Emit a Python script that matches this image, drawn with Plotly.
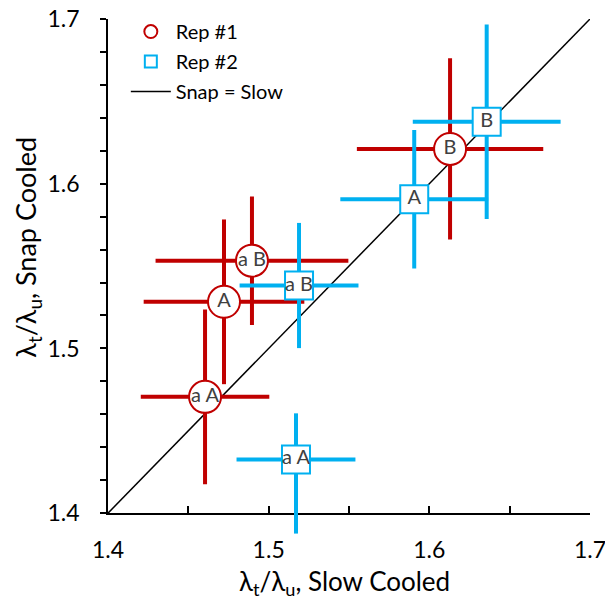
import plotly.graph_objects as go

# Rep #1 (red circles)
rep1_x = [1.4604, 1.4722, 1.4896, 1.6129]
rep1_y = [1.4706, 1.5283, 1.5533, 1.6211]
rep1_ex = [0.040, 0.050, 0.060, 0.058]
rep1_ey = [0.053, 0.050, 0.039, 0.055]
rep1_labels = ["a A", "A", "a B", "B"]

# Rep #2 (blue squares)
rep2_x = [1.5170, 1.5189, 1.5906, 1.6357]
rep2_y = [1.4326, 1.5382, 1.5906, 1.6376]
rep2_ex = [0.037, 0.037, 0.046, 0.046]
rep2_ey_plus = [0.028, 0.038, 0.042, 0.059]
rep2_ey_minus = [0.045, 0.038, 0.042, 0.059]
rep2_labels = ["a A", "a B", "A", "B"]

# 1:1 line
line_x = [1.4, 1.7]
line_y = [1.4, 1.7]

RED = "#C00000"
BLUE = "#00B0F0"
FONT = "Lato"

# layout geometry (lets error bars extend a little below the x axis)
W, H = 605, 605
M_L, M_R, M_T, M_B = 108, 15, 16, 65
AREA_H = H - M_T - M_B
D0 = 27 / AREA_H                     # main y-domain bottom (x axis position)
Y_LO, Y_HI = 1.4, 1.7
Y2_LO = Y_LO - (Y_HI - Y_LO) * D0 / (1 - D0)


def py(pix):
    """pixel row -> paper y"""
    return (H - M_B - pix) / AREA_H


fig = go.Figure()

fig.add_trace(go.Scatter(
    x=line_x, y=line_y, mode="lines", xaxis="x", yaxis="y",
    line=dict(color="black", width=1.5),
    showlegend=False, hoverinfo="skip"))

fig.add_trace(go.Scatter(
    x=rep1_x, y=rep1_y, mode="markers+text", text=rep1_labels,
    xaxis="x", yaxis="y2",
    textposition="middle center",
    textfont=dict(family=FONT, size=20, color="#404040"),
    marker=dict(symbol="circle", size=32, color="white",
                line=dict(color=RED, width=2)),
    error_x=dict(type="data", array=rep1_ex, color=RED, thickness=4, width=0),
    error_y=dict(type="data", array=rep1_ey, color=RED, thickness=4, width=0),
    cliponaxis=False, showlegend=False))

fig.add_trace(go.Scatter(
    x=rep2_x, y=rep2_y, mode="markers+text", text=rep2_labels,
    xaxis="x", yaxis="y2",
    textposition="middle center",
    textfont=dict(family=FONT, size=20, color="#404040"),
    marker=dict(symbol="square", size=28, color="white",
                line=dict(color=BLUE, width=2)),
    error_x=dict(type="data", array=rep2_ex, color=BLUE, thickness=4, width=0),
    error_y=dict(type="data", symmetric=False, array=rep2_ey_plus,
                 arrayminus=rep2_ey_minus, color=BLUE, thickness=4, width=0),
    cliponaxis=False, showlegend=False))

# legend entries
fig.add_trace(go.Scatter(
    x=[None], y=[None], mode="markers", name="Rep #1", legendgroup="g1",
    marker=dict(symbol="circle", size=13, color="white",
                line=dict(color=RED, width=2))))
fig.add_trace(go.Scatter(
    x=[None], y=[None], mode="markers", name="Rep #2", legendgroup="g2",
    marker=dict(symbol="square", size=12, color="white",
                line=dict(color=BLUE, width=2))))
fig.add_trace(go.Scatter(
    x=[None], y=[None], mode="lines", name="Snap = Slow", legendgroup="g3",
    line=dict(color="black", width=1.5)))

fig.update_layout(
    width=W, height=H,
    margin=dict(l=M_L, r=M_R, t=M_T, b=M_B),
    paper_bgcolor="white", plot_bgcolor="rgba(0,0,0,0)",
    font=dict(family=FONT, size=20, color="black"),
    showlegend=True,
    legend=dict(x=0.037, y=py(9), xanchor="left", yanchor="top",
                bgcolor="rgba(0,0,0,0)", font=dict(size=20, family=FONT),
                traceorder="grouped", tracegroupgap=1, itemwidth=40),
    xaxis=dict(range=[1.4, 1.7], tick0=1.4, dtick=0.1, tickformat=".1f",
               anchor="y", automargin=False, ticklabeloverflow="allow",
               showgrid=False, zeroline=False, showline=True,
               linecolor="black", linewidth=1.5,
               ticks="inside", ticklen=7, tickcolor="black", tickwidth=1.5,
               ticklabelstandoff=15,
               minor=dict(dtick=0.05, ticks="inside", ticklen=7,
                          tickcolor="black", tickwidth=1.5, showgrid=False),
               tickfont=dict(size=23, family=FONT)),
    yaxis=dict(range=[Y_LO, Y_HI], domain=[D0, 1], tick0=1.4, dtick=0.1,
               tickformat=".1f", anchor="x", automargin=False,
               ticklabeloverflow="allow",
               showgrid=False, zeroline=False, showline=True,
               linecolor="black", linewidth=1.5,
               ticks="outside", ticklen=6, tickcolor="black", tickwidth=1.5,
               ticklabelstandoff=16,
               minor=dict(dtick=0.02, ticks="outside", ticklen=6,
                          tickcolor="black", tickwidth=1.5, showgrid=False),
               tickfont=dict(size=23, family=FONT)),
    yaxis2=dict(range=[Y2_LO, Y_HI], domain=[0, 1], anchor="x",
                visible=False, showgrid=False, zeroline=False,
                automargin=False),
    annotations=[
        dict(text="λ<sub>t</sub>/λ<sub>u</sub>, Slow Cooled",
             xref="paper", yref="paper", x=0.49, y=py(583),
             xanchor="center", yanchor="middle", showarrow=False,
             font=dict(size=26, family=FONT, color="black")),
        dict(text="λ<sub>t</sub>/λ<sub>u</sub>, Snap Cooled",
             xref="paper", yref="paper", x=-0.166, y=py(245),
             xanchor="center", yanchor="middle", showarrow=False,
             textangle=-90,
             font=dict(size=27, family=FONT, color="black")),
    ],
)

fig.write_html("out.html")
